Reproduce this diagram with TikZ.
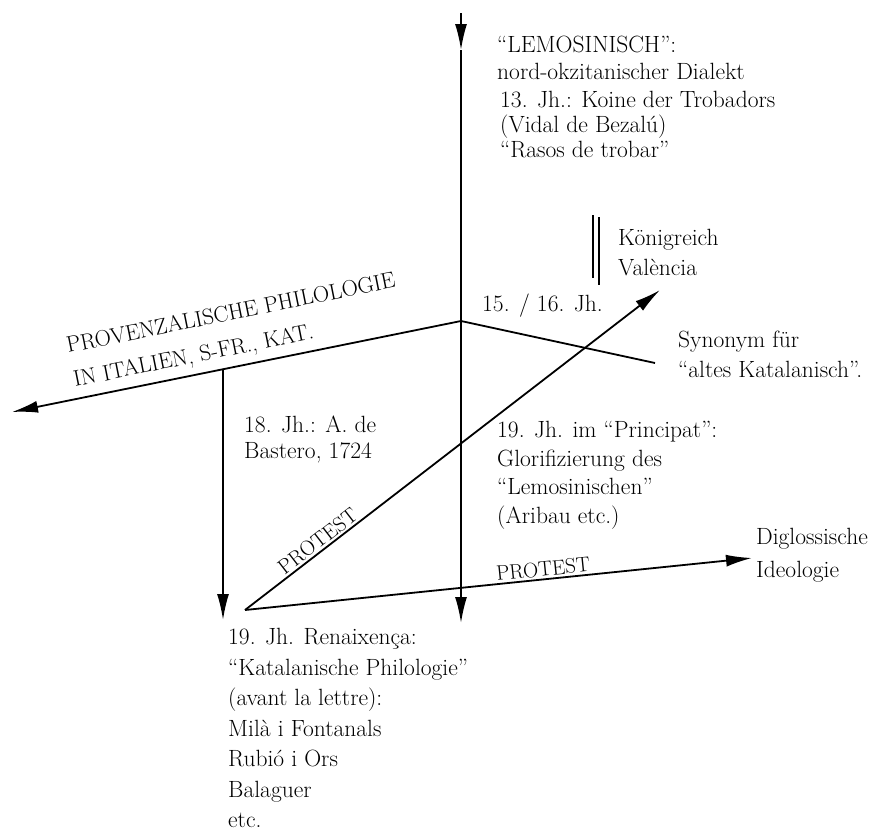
\documentclass[tikz,border=0pt]{standalone}
\usetikzlibrary{arrows.meta}
\begin{document}
\begin{tikzpicture}[x=1pt,y=-1pt,
  ln/.style={line width=1.8pt},
  arr/.style={ln,-{Latex[length=26pt,width=12pt]}},
  txt/.style={font=\fontsize{23.5}{#1}\selectfont, align=left, inner sep=0pt, anchor=north west},
  txt/.default=28,
  caps/.style={font=\fontsize{22.5}{26}\selectfont, inner sep=0pt, anchor=base west, rotate=11.4},
  lbl/.style={font=\fontsize{21}{24}\selectfont, inner sep=2pt, sloped, above}]
\useasboundingbox (0,0) rectangle (893,833);

% end points of the connectors
\coordinate (top)   at (461,13);
\coordinate (mid)   at (461,50);
\coordinate (hub)   at (461,321);
\coordinate (bot)   at (461,623);
\coordinate (west)  at (12,412);
\coordinate (east)  at (655,363);
\coordinate (lvtop) at (223,369);
\coordinate (lvbot) at (223,620);
\coordinate (vx)    at (245,610);
\coordinate (ne)    at (660,290);
\coordinate (ee)    at (752,558);
\coordinate (d1a)   at (593,215);
\coordinate (d1b)   at (593,278);
\coordinate (d2a)   at (599,217);
\coordinate (d2b)   at (599,285);

% main vertical axis
\draw[arr] (top) -- (mid);
\draw[arr] (mid) -- (bot);
% branches from the hub
\draw[arr] (hub) -- (west);
\draw[ln] (hub) -- (east);
\draw[arr] (lvtop) -- (lvbot);
% protest arrows
\draw[arr] (vx) -- (ne) node[lbl, pos=0.19] (p1) {PROTEST};
\draw[arr] (vx) -- (ee) node[lbl, pos=0.59] (p2) {PROTEST};
% double bar
\draw[ln] (d1a) -- (d1b);
\draw[ln] (d2a) -- (d2b);

% slanted heading along the left branch
\node[caps] (prov1) at (68,353) {PROVENZALISCHE PHILOLOGIE};
\node[caps] (prov2) at (75,387) {IN ITALIEN, S-FR., KAT.};

% text blocks
\node[txt=27] (lem) at (497,36) {“LEMOSINISCH”:\\nord-okzitanischer Dialekt};
\node[txt=25] (koine) at (500,91) {13. Jh.: Koine der Trobadors\\(Vidal de Bezalú)\\“Rasos de trobar”};
\node[txt=30] (val) at (618,229) {Königreich\\València};
\node[txt] (jh) at (482,294) {15. / 16. Jh.};
\node[txt=30] (syn) at (678,331) {Synonym für\\“altes Katalanisch”.};
\node[txt=26] (bast) at (244,416) {18. Jh.: A. de\\Bastero, 1724};
\node[txt=28.7] (princ) at (497,421) {19. Jh. im “Principat”:\\Glorifizierung des\\“Lemosinischen”\\(Aribau etc.)};
\node[txt=33] (digl) at (756,528) {Diglossische\\Ideologie};
\node[txt=30.5] (ren) at (228,628) {19. Jh. Renaixença:\\“Katalanische Philologie”\\(avant la lettre):\\Milà i Fontanals\\Rubió i Ors\\Balaguer\\etc.};
\end{tikzpicture}
\end{document}
